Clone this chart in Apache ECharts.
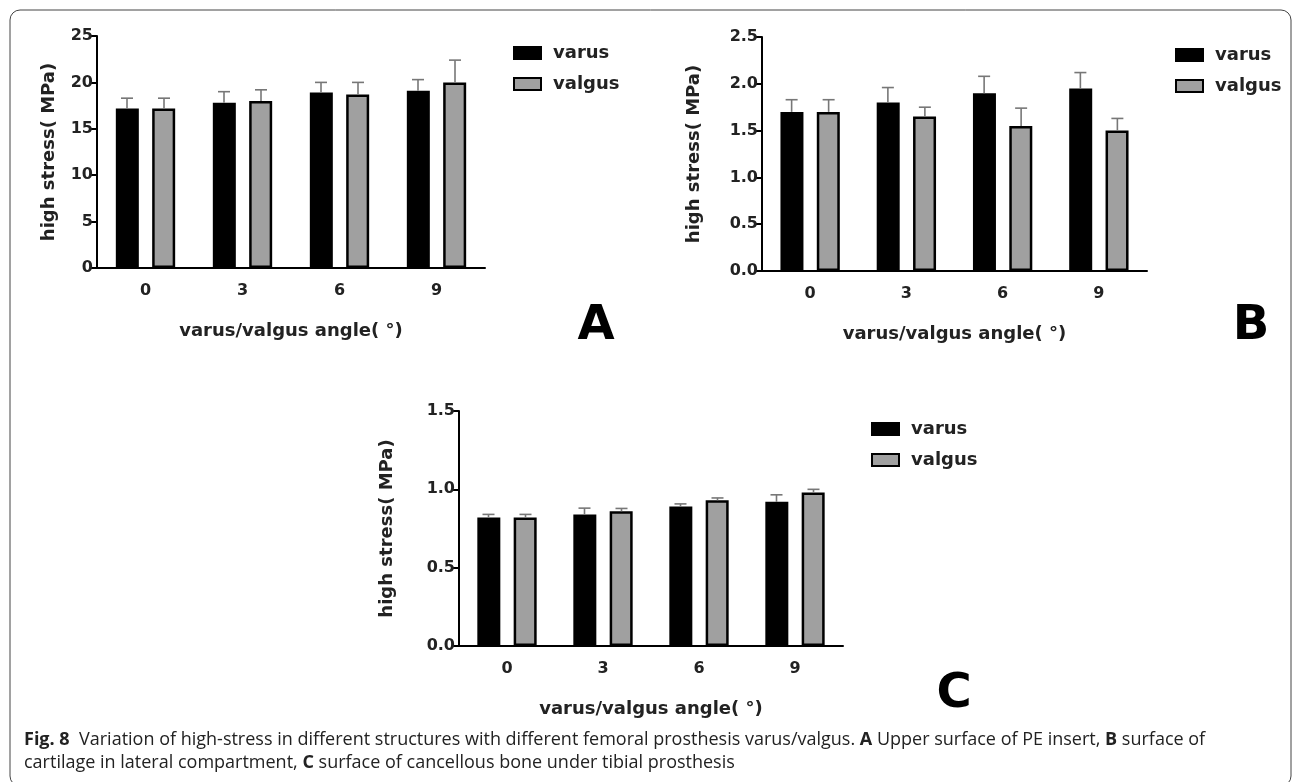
<!DOCTYPE html>
<html>
<head>
<meta charset="utf-8">
<script src="https://cdn.jsdelivr.net/npm/echarts@6/dist/echarts.min.js"></script>
<style>
html,body{margin:0;padding:0;background:#fff;}
#chart{width:1295px;height:782px;}
</style>
</head>
<body>
<div id="chart"></div>
<script>
// ---- data ----
var categories = ['0', '3', '6', '9'];
var seriesNames = ['varus', 'valgus'];

var A_varus = [17.2, 17.8, 18.9, 19.1];
var A_varusSD = [1.1, 1.2, 1.1, 1.2];
var A_valgus = [17.2, 18.0, 18.7, 20.0];
var A_valgusSD = [1.1, 1.2, 1.3, 2.4];

var B_varus = [1.70, 1.80, 1.90, 1.95];
var B_varusSD = [0.13, 0.16, 0.18, 0.17];
var B_valgus = [1.70, 1.65, 1.55, 1.50];
var B_valgusSD = [0.13, 0.10, 0.19, 0.13];

var C_varus = [0.82, 0.84, 0.89, 0.92];
var C_varusSD = [0.02, 0.04, 0.017, 0.045];
var C_valgus = [0.82, 0.86, 0.93, 0.98];
var C_valgusSD = [0.02, 0.018, 0.015, 0.02];

var yTitle = 'high stress( MPa)';
var xTitle = 'varus/valgus angle( °)';
var panelLetters = ['A', 'B', 'C'];

// ---- styling ----
var FONT = 'DejaVu Sans';
var TXT = '#222';
var BAR_W = 23;
var OFF = 18.5;

function errData(vals, sds) {
  return vals.map(function (v, i) { return [i, v, v + sds[i]]; });
}
function errRender(offset) {
  return function (params, api) {
    var top = api.coord([api.value(0), api.value(2)]);
    var base = api.coord([api.value(0), api.value(1)]);
    var cx = top[0] + offset;
    return {
      type: 'group',
      children: [
        { type: 'line', shape: { x1: cx, y1: base[1], x2: cx, y2: top[1] }, style: { stroke: '#777', lineWidth: 1.6 } },
        { type: 'line', shape: { x1: cx - 6, y1: top[1], x2: cx + 6, y2: top[1] }, style: { stroke: '#777', lineWidth: 1.6 } }
      ]
    };
  };
}

var grids = [
  { left: 97, top: 36, width: 388, height: 232 },
  { left: 762, top: 37, width: 385, height: 234 },
  { left: 459, top: 411, width: 384, height: 235 }
];
var yMax = [25, 2.5, 1.5];
var yInt = [5, 0.5, 0.5];
var yDec = [0, 1, 1];
var yNameGap = [39, 59, 63];
var data = [
  [A_varus, A_varusSD, A_valgus, A_valgusSD],
  [B_varus, B_varusSD, B_valgus, B_valgusSD],
  [C_varus, C_varusSD, C_valgus, C_valgusSD]
];
var legendPos = [
  { left: 508, top: 38 },
  { left: 1170, top: 40 },
  { left: 866, top: 414 }
];

var xAxes = [], yAxes = [], series = [], legends = [];
for (var g = 0; g < 3; g++) {
  xAxes.push({
    type: 'category', gridIndex: g, data: categories,
    name: xTitle, nameLocation: 'middle', nameGap: 54,
    nameTextStyle: { fontFamily: FONT, fontWeight: 'bold', fontSize: 18, color: TXT },
    axisLine: { lineStyle: { color: '#000', width: 2 } },
    axisTick: { alignWithLabel: true, length: 7, lineStyle: { color: '#000', width: 2 } },
    axisLabel: { fontFamily: FONT, fontWeight: 'bold', fontSize: 16, color: TXT, margin: 15 }
  });
  (function (dec) {
    yAxes.push({
      type: 'value', gridIndex: g, min: 0, max: yMax[g], interval: yInt[g],
      name: yTitle, nameLocation: 'middle', nameGap: yNameGap[g],
      nameTextStyle: { fontFamily: FONT, fontWeight: 'bold', fontSize: 18, color: TXT },
      axisLine: { show: true, lineStyle: { color: '#000', width: 2 } },
      axisTick: { show: true, length: 6, lineStyle: { color: '#000', width: 2 } },
      splitLine: { show: false },
      axisLabel: {
        fontFamily: FONT, fontWeight: 'bold', fontSize: 16, color: TXT, margin: 4,
        formatter: function (v) { return v.toFixed(dec); }
      }
    });
  })(yDec[g]);
  var d = data[g];
  series.push({
    name: seriesNames[0], type: 'bar', xAxisIndex: g, yAxisIndex: g, data: d[0],
    barWidth: BAR_W, barGap: '58%',
    itemStyle: { color: '#000', borderColor: '#000', borderWidth: 2 }, z: 2
  });
  series.push({
    name: seriesNames[1], type: 'bar', xAxisIndex: g, yAxisIndex: g, data: d[2],
    barWidth: BAR_W, barGap: '58%',
    itemStyle: { color: '#a0a0a0', borderColor: '#000', borderWidth: 2.5 }, z: 2
  });
  series.push({
    name: 'err' + g + 'a', type: 'custom', xAxisIndex: g, yAxisIndex: g,
    data: errData(d[0], d[1]), renderItem: errRender(-OFF), encode: { x: 0, y: [1, 2] }, z: 3
  });
  series.push({
    name: 'err' + g + 'b', type: 'custom', xAxisIndex: g, yAxisIndex: g,
    data: errData(d[2], d[3]), renderItem: errRender(OFF), encode: { x: 0, y: [1, 2] }, z: 3
  });
  legends.push({
    data: seriesNames, orient: 'vertical', left: legendPos[g].left, top: legendPos[g].top,
    icon: 'rect', itemWidth: 27, itemHeight: 12, itemGap: 11, selectedMode: false,
    textStyle: { fontFamily: FONT, fontWeight: 'bold', fontSize: 18, color: TXT, lineHeight: 20, padding: [0, 0, 0, 7] }
  });
}

var chart = echarts.init(document.getElementById('chart'), null, { renderer: 'canvas' });
chart.setOption({
  backgroundColor: '#fff',
  animation: false,
  grid: grids,
  xAxis: xAxes,
  yAxis: yAxes,
  legend: legends,
  series: series,
  graphic: [
    { type: 'rect', shape: { x: 10, y: 10, width: 1281, height: 776, r: 10 }, style: { fill: 'none', stroke: '#444', lineWidth: 1 }, z: 0 },
    { type: 'text', x: 596, y: 327, style: { text: panelLetters[0], font: 'bold 48px "DejaVu Sans"', fill: '#000', align: 'center', verticalAlign: 'middle' } },
    { type: 'text', x: 1251, y: 327, style: { text: panelLetters[1], font: 'bold 48px "DejaVu Sans"', fill: '#000', align: 'center', verticalAlign: 'middle' } },
    { type: 'text', x: 954, y: 695, style: { text: panelLetters[2], font: 'bold 48px "DejaVu Sans"', fill: '#000', align: 'center', verticalAlign: 'middle' } },
    {
      type: 'text', x: 24, y: 728,
      style: {
        text: '{b|Fig. 8}  Variation of high-stress in different structures with different femoral prosthesis varus/valgus. {b|A} Upper surface of PE insert, {b|B} surface of\ncartilage in lateral compartment, {b|C} surface of cancellous bone under tibial prosthesis',
        fontFamily: 'Open Sans', fontSize: 18, fill: '#222', lineHeight: 23,
        rich: { b: { fontFamily: 'Open Sans', fontWeight: 'bold', fontSize: 18, fill: '#222', lineHeight: 23 } }
      }
    }
  ]
});
</script>
</body>
</html>
